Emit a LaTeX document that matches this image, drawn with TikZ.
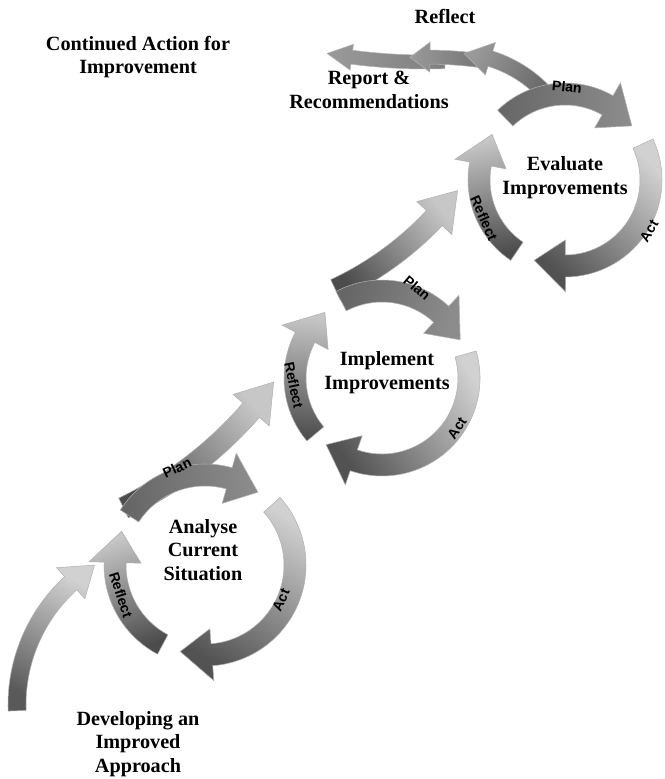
\documentclass[tikz,border=0pt]{standalone}
\usepackage{fontspec}
\setmainfont{Liberation Serif}
\newfontfamily\labelfont{Liberation Sans}

\newcommand{\setband}[3]{\def\bandh{#1}\def\bandH{#2}\def\bandL{#3}}
% curved band with a head: centre x, centre y, radius, from, to, tail colour, head colour
\newcommand{\bandarrow}[7]{
  \pgfmathsetmacro\baSg{sign(#5-#4)}
  \pgfmathsetmacro\baHd{#5-\baSg*deg(\bandL/#3)}
  \pgfmathsetmacro\baAng{(#4+#5)/2+90*\baSg-90}
  \pgfmathsetmacro\baRo{#3+\bandh}
  \pgfmathsetmacro\baRi{#3-\bandh}
  \pgfmathsetmacro\baHo{#3+\bandH}
  \pgfmathsetmacro\baHi{#3-\bandH}
  \path[band, shift={(#1,#2)}, bottom color=#6, top color=#7, shading angle=\baAng]
    (#4:\baRo) arc[start angle=#4, end angle=\baHd, radius=\baRo]
    -- (\baHd:\baHo) -- (#5:#3) -- (\baHd:\baHi) -- (\baHd:\baRi)
    arc[start angle=\baHd, end angle=#4, radius=\baRi] -- cycle;
}

\tikzset{
  band/.style={draw=black!30, line width=0.3pt},
  stagetext/.style={font=\bfseries\fontsize{11.5}{13.5}\selectfont, align=center, inner sep=1pt},
  bandlabel/.style={font=\labelfont\bfseries\fontsize{8}{9}\selectfont, inner sep=0.5pt}
}

\begin{document}
\begin{tikzpicture}[x=0.02cm, y=0.02cm]
  \useasboundingbox (0,0) rectangle (664,779);

  % rising arrows between the cycles
  \setband{9}{21}{30}
  \bandarrow{182}{74}{165}{182}{122}{black!65}{black!18}
  \setband{11}{24}{36}
  \bandarrow{-54}{635}{405}{296}{324}{black!70}{black!22}
  \bandarrow{198}{784}{325}{295}{323}{black!70}{black!22}

  % arrows to continued action
  \setband{7}{13}{25}
  \bandarrow{425}{1281}{564}{272}{260}{black!50}{black!40}
  \setband{7}{15}{20}
  \bandarrow{425}{292}{430}{82}{92}{black!55}{black!40}
  \setband{8}{17}{27}
  \bandarrow{453}{600}{126}{40}{85}{black!60}{black!40}

  % the three cycles: plan, act, reflect
  \setband{11}{26}{32}
  \bandarrow{205}{214}{90}{147}{54}{black!60}{black!45}
  \bandarrow{205}{214}{90}{42}{-106}{black!18}{black!68}
  \bandarrow{205}{214}{90}{242}{158}{black!70}{black!22}

  \bandarrow{382}{401}{87}{118}{26}{black!60}{black!45}
  \bandarrow{382}{401}{87}{16}{-130}{black!18}{black!68}
  \bandarrow{382}{401}{87}{220}{131}{black!70}{black!22}

  \bandarrow{565}{599}{86}{134}{39}{black!60}{black!45}
  \bandarrow{565}{599}{86}{25}{-111}{black!18}{black!68}
  \bandarrow{565}{599}{86}{236}{148}{black!70}{black!22}

  % labels on the bands
  \node[bandlabel, rotate=25] (anplan) at (177,311) {Plan};
  \node[bandlabel, rotate=66] (anact) at (281,179) {Act};
  \node[bandlabel, rotate=-72] (anrefl) at (121,184) {Reflect};
  \node[bandlabel, rotate=-40] (implan) at (417,491) {Plan};
  \node[bandlabel, rotate=56] (imact) at (457,351) {Act};
  \node[bandlabel, rotate=-78] (imrefl) at (294,394) {Reflect};
  \node[bandlabel, rotate=-6] (evplan) at (567,692) {Plan};
  \node[bandlabel, rotate=59] (evact) at (649,548) {Act};
  \node[bandlabel, rotate=-66] (evrefl) at (484,561) {Reflect};

  % stage texts
  \node[stagetext] (continued) at (138,722) {Continued Action for\\Improvement};
  \node[stagetext] (reflect) at (445,763) {Reflect};
  \node[stagetext] (report) at (369,689) {Report \&\\Recommendations};
  \node[stagetext] (evaluate) at (565,601) {Evaluate\\Improvements};
  \node[stagetext] (implement) at (387,406) {Implement\\Improvements};
  \node[stagetext] (analyse) at (203,229) {Analyse\\Current\\Situation};
  \node[stagetext] (developing) at (138,35) {Developing an\\Improved\\Approach};
\end{tikzpicture}
\end{document}
